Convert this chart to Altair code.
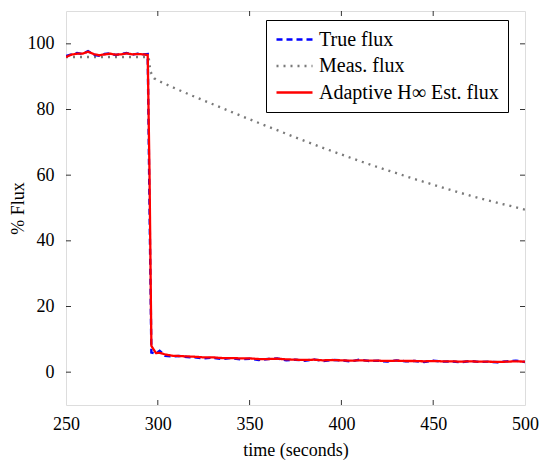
import altair as alt
import pandas as pd

# ---- data ----
times = [250, 253, 256, 259, 262, 265, 268, 271, 274, 277, 280, 283, 286, 289, 292, 294.5,
         295.5, 296.5, 299, 301, 304, 308, 312, 316,
         320, 325, 330, 335, 340, 345, 350, 355, 360, 365, 370, 375, 380, 385, 390, 395,
         400, 405, 410, 415, 420, 425, 430, 435, 440, 445, 450, 455, 460, 465, 470, 475,
         480, 485, 490, 495, 500]
true_flux = [96.3, 96.8, 97.2, 96.9, 97.8, 96.7, 96.4, 96.9, 97.1, 96.6, 96.9, 97.2, 96.7, 97.0, 96.8, 96.9,
             50, 6.0, 5.6, 6.5, 5.0, 4.8, 4.9, 4.6,
             4.5, 4.2, 4.4, 4.0, 4.3, 3.9, 4.1, 3.7, 4.0, 4.2, 3.6, 3.8, 3.5, 3.9, 3.4, 3.7,
             3.6, 3.3, 3.8, 3.4, 3.5, 3.2, 3.6, 3.3, 3.4, 3.1, 3.5, 3.2, 3.3, 3.0, 3.4, 3.1,
             3.2, 3.0, 3.3, 3.5, 3.1]
est_flux = [96.0, 96.7, 97.0, 97.0, 97.6, 96.9, 96.5, 96.8, 97.0, 96.7, 96.8, 97.1, 96.8, 96.9, 96.8, 96.6,
            60, 8.0, 5.8, 5.9, 5.4, 5.0, 4.9, 4.8,
            4.7, 4.5, 4.5, 4.3, 4.3, 4.2, 4.2, 4.0, 4.0, 4.1, 3.9, 3.8, 3.7, 3.8, 3.6, 3.7,
            3.6, 3.5, 3.6, 3.5, 3.5, 3.4, 3.5, 3.4, 3.4, 3.3, 3.4, 3.3, 3.3, 3.2, 3.3, 3.2,
            3.2, 3.1, 3.2, 3.3, 3.2]
meas_times = [250, 260, 270, 280, 290, 295, 296, 298, 300,
              310, 320, 330, 340, 350, 360, 370, 380, 390, 400,
              410, 420, 430, 440, 450, 460, 470, 480, 490, 500]
meas_flux = [96, 96, 96, 96, 96, 96, 91.5, 89.5, 88.8,
             86.3, 83.9, 81.6, 79.3, 77.0, 74.8, 72.6, 70.4, 68.3, 66.3,
             64.3, 62.4, 60.6, 58.8, 57.1, 55.4, 53.8, 52.3, 50.9, 49.5]

series_names = ["True flux", "Meas. flux", "Adaptive H\u221e Est. flux"]
x_labels = [250, 300, 350, 400, 450, 500]
x_ticks = [300, 350, 400, 450]
y_ticks = [0, 20, 40, 60, 80, 100]

true_df = pd.DataFrame({"time": times, "value": true_flux, "series": series_names[0]})
meas_df = pd.DataFrame({"time": meas_times, "value": meas_flux, "series": series_names[1]})
est_df = pd.DataFrame({"time": times, "value": est_flux, "series": series_names[2]})

W, H = 459, 394
FONT = "Liberation Serif"

xs = alt.Scale(domain=[250, 500], nice=False, zero=False)
ys = alt.Scale(domain=[-10, 110], nice=False, zero=False)

color_scale = alt.Scale(domain=series_names, range=["#0000ff", "#7a7a7a", "#ff0000"])
dash_scale = alt.Scale(domain=series_names, range=[[6, 4], [2, 5], [1, 0]])
width_scale = alt.Scale(domain=series_names, range=[2.4, 2.3, 1.0])

x_axis = alt.Axis(values=x_labels, title="time (seconds)", grid=False, labelFlush=False,
                  domain=False, ticks=False, labelPadding=10, labelFontSize=18, titleFontSize=18,
                  labelFont=FONT, titleFont=FONT, titleFontWeight="normal", titlePadding=8,
                  labelColor="black", titleColor="black")
y_axis = alt.Axis(values=y_ticks, title="% Flux", grid=False, domain=False, ticks=False,
                  labelFlush=False,
                  labelPadding=12, labelFontSize=18, titleFontSize=18, labelFont=FONT,
                  titleFont=FONT, titleFontWeight="normal", titlePadding=0,
                  labelColor="black", titleColor="black")

legend = alt.Legend(title=None, orient="none", legendX=200, legendY=9, padding=9,
                    strokeColor="black", fillColor="white", labelFont=FONT, labelFontSize=20,
                    labelColor="black", symbolType="M-2,0H2", symbolSize=324, symbolOffset=9,
                    labelOffset=14, labelLimit=400, rowPadding=5.5, cornerRadius=0)


def line_layer(df):
    return alt.Chart(df).mark_line(clip=True).encode(
        x=alt.X("time:Q", scale=xs, axis=x_axis),
        y=alt.Y("value:Q", scale=ys, axis=y_axis),
        color=alt.Color("series:N", scale=color_scale, legend=legend, sort=series_names),
        strokeDash=alt.StrokeDash("series:N", scale=dash_scale, legend=legend, sort=series_names),
        strokeWidth=alt.StrokeWidth("series:N", scale=width_scale, legend=legend, sort=series_names),
    )


xt = pd.DataFrame({"time": x_ticks})
yt = pd.DataFrame({"value": y_ticks})
tick_style = dict(color="black", strokeWidth=0.8)
ticks = [
    alt.Chart(xt).mark_rule(**tick_style).encode(x=alt.X("time:Q", scale=xs, axis=x_axis), y=alt.value(H), y2=alt.value(H - 5)),
    alt.Chart(xt).mark_rule(**tick_style).encode(x=alt.X("time:Q", scale=xs, axis=x_axis), y=alt.value(0), y2=alt.value(5)),
    alt.Chart(yt).mark_rule(**tick_style).encode(y=alt.Y("value:Q", scale=ys, axis=y_axis), x=alt.value(0), x2=alt.value(5)),
    alt.Chart(yt).mark_rule(**tick_style).encode(y=alt.Y("value:Q", scale=ys, axis=y_axis), x=alt.value(W), x2=alt.value(W - 5)),
]

chart = alt.layer(
    line_layer(meas_df), line_layer(true_df), line_layer(est_df), *ticks
).properties(
    width=W, height=H,
    autosize=alt.AutoSizeParams(type="none"),
    padding={"left": 58, "top": 3, "right": 14, "bottom": 55},
).configure_view(
    stroke="black", strokeWidth=1
).configure_axis(
    labelFont=FONT, titleFont=FONT, labelFontSize=18, titleFontSize=18
).configure(background="white")

chart.save("out.html", embed_options={"renderer": "svg", "actions": False})
